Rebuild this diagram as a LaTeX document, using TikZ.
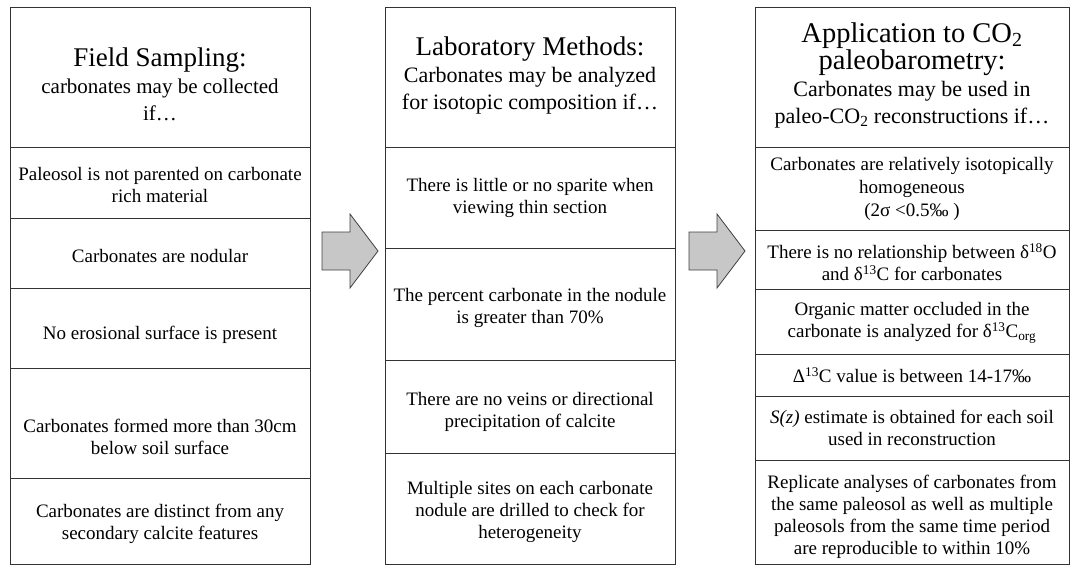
\documentclass[tikz,border=0pt]{standalone}
\usepackage{fontspec}
\setmainfont{Liberation Serif}
\newcommand{\bodyfont}{\fontsize{19}{22}\selectfont}
\newcommand{\headfont}{\fontsize{27}{28}\selectfont}
\newcommand{\bigheadfont}{\fontsize{28.5}{28}\selectfont}
\newcommand{\subfont}{\fontsize{22}{27}\selectfont}
\tikzset{
    grid/.style={draw=black!80, line width=1pt}, % column frame and row lines
    body/.style={align=center, inner sep=0pt, font=\bodyfont},
    title/.style={align=center, inner sep=0pt, font=\subfont, anchor=base}, % placed by its last line
    blockarrow/.style={fill=black!22, draw=black!75, line width=0.8pt, line join=miter}
}

\begin{document}
\begin{tikzpicture}[x=1pt, y=-1pt]
    \useasboundingbox (0,0) rectangle (1070,565);

    % the three columns
    \draw[grid] (10,7) rectangle (310,564);
    \foreach \y in {147, 218, 288, 368, 478}
        \draw[grid] (10,\y) -- (310,\y);
    \draw[grid] (385,7) rectangle (675,564);
    \foreach \y in {147, 248, 360, 453}
        \draw[grid] (385,\y) -- (675,\y);
    \draw[grid] (755,7) rectangle (1069,564);
    \foreach \y in {147, 230, 289, 354, 396, 460}
        \draw[grid] (755,\y) -- (1069,\y);

    % field sampling
    \node[title, font=\fontsize{21}{27}\selectfont] (field) at (160,120)
        {{\headfont Field Sampling:}\\carbonates may be collected\\if…};
    \node[body] (parent) at (160,184.5)
        {Paleosol is not parented on carbonate\\rich material};
    \node[body] (nodular) at (160,256) {Carbonates are nodular};
    \node[body] (erosion) at (160,335) {No erosional surface is present};
    \node[body] (depth) at (160,437)
        {Carbonates formed more than 30cm\\below soil surface};
    \node[body] (distinct) at (160,524)
        {Carbonates are distinct from any\\secondary calcite features};

    % laboratory methods
    \node[title] (lab) at (530,109)
        {{\headfont Laboratory Methods:}\\Carbonates may be analyzed\\for isotopic composition if…};
    \node[body] (sparite) at (530,197.5)
        {There is little or no sparite when\\viewing thin section};
    \node[body] (percent) at (530,308)
        {The percent carbonate in the nodule\\is greater than 70\%};
    \node[body] (veins) at (530,412)
        {There are no veins or directional\\precipitation of calcite};
    \node[body] (sites) at (530,512)
        {Multiple sites on each carbonate\\nodule are drilled to check for\\heterogeneity};

    % paleobarometry
    \node[title] (appl) at (912,123)
        {{\bigheadfont Application to CO\textsubscript{2}}\\{\bigheadfont paleobarometry:}\\Carbonates may be used in\\paleo-CO\textsubscript{2} reconstructions if…};
    \node[body] (homog) at (912,189)
        {Carbonates are relatively isotopically\\[1pt]homogeneous\\[1pt](2σ <0.5‰ )};
    \node[body] (relation) at (912,262)
        {There is no relationship between δ\textsuperscript{18}O\\and δ\textsuperscript{13}C for carbonates};
    \node[body] (organic) at (912,323)
        {Organic matter occluded in the\\carbonate is analyzed for δ\textsuperscript{13}C\textsubscript{org}};
    \node[body] (bigdelta) at (912,375)
        {Δ\textsuperscript{13}C value is between 14-17‰};
    \node[body] (sz) at (912,428)
        {\textit{S(z)} estimate is obtained for each soil\\used in reconstruction};
    \node[body] (replic) at (912,517)
        {Replicate analyses of carbonates from\\the same paleosol as well as multiple\\paleosols from the same time period\\are reproducible to within 10\%};

    % arrows between the columns
    \foreach \ax in {322, 689} {
        \draw[blockarrow] (\ax,232) -- ++(28,0) -- ++(0,-18) -- ++(28,37)
            -- ++(-28,37) -- ++(0,-18) -- ++(-28,0) -- cycle;
    }
\end{tikzpicture}
\end{document}
